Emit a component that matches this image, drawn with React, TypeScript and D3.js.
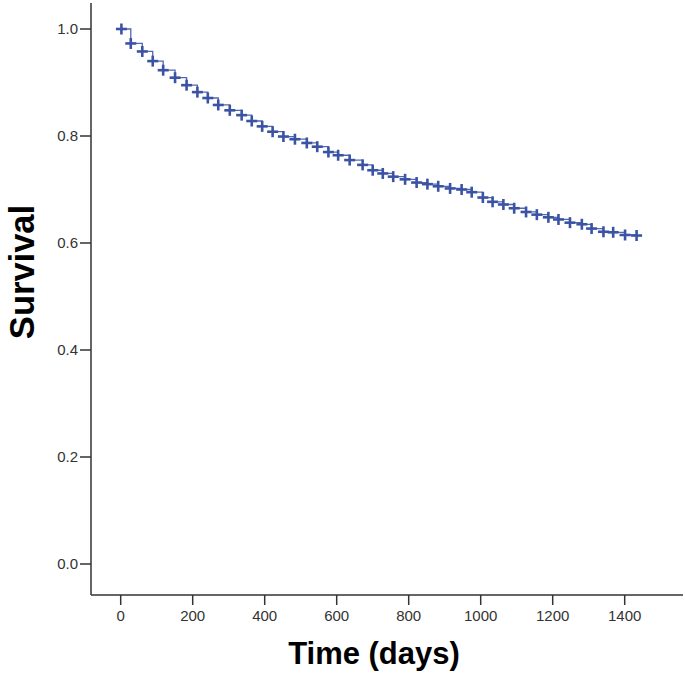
import React from "react";
import * as d3 from "d3";

const censorDays = [2, 28, 60, 89, 118, 151, 183, 213, 242, 271, 303, 336, 364, 393, 422, 452, 484, 517, 546, 577, 604, 636, 672, 700, 728, 757, 790, 822, 852, 882, 915, 947, 975, 1006, 1033, 1063, 1093, 1126, 1156, 1188, 1216, 1248, 1281, 1308, 1341, 1368, 1401, 1433];
const survival = [1.0, 0.973, 0.958, 0.94, 0.923, 0.909, 0.895, 0.882, 0.871, 0.858, 0.848, 0.839, 0.828, 0.818, 0.808, 0.799, 0.794, 0.787, 0.78, 0.77, 0.764, 0.755, 0.746, 0.736, 0.73, 0.724, 0.719, 0.713, 0.71, 0.706, 0.702, 0.7, 0.695, 0.685, 0.677, 0.672, 0.665, 0.658, 0.653, 0.648, 0.644, 0.638, 0.635, 0.627, 0.621, 0.62, 0.615, 0.614];
const xTicks = [0, 200, 400, 600, 800, 1000, 1200, 1400];
const yTicks = [0, 0.2, 0.4, 0.6, 0.8, 1.0];

export default function App() {
  const x = d3.scaleLinear().domain([0, 1400]).range([120.7, 624.7]);
  const y = d3.scaleLinear().domain([0, 1]).range([564, 29]);
  const pts: [number, number][] = [[0, 1.0], ...censorDays.map((d, i) => [d, survival[i]] as [number, number])];
  const line = d3.line<[number, number]>().x(d => x(d[0])).y(d => y(d[1])).curve(d3.curveStepAfter);
  const axisColor = "#333";
  const font = "Liberation Sans, Arial, sans-serif";
  const m = 5.5;
  return (
    <svg width={685} height={674} style={{ position: "absolute", left: 0, top: 0, background: "#fff" }}>
      <line x1={91} y1={3} x2={91} y2={595} stroke={axisColor} strokeWidth={1.5} />
      <line x1={91} y1={595} x2={683} y2={595} stroke={axisColor} strokeWidth={1.5} />
      {yTicks.map(t => (
        <g key={"y" + t}>
          <line x1={80} x2={91} y1={y(t)} y2={y(t)} stroke={axisColor} strokeWidth={1.5} />
          <text x={78} y={y(t)} dy="0.35em" textAnchor="end" fontFamily={font} fontSize={15} fill="#333">{t.toFixed(1)}</text>
        </g>
      ))}
      {xTicks.map(t => (
        <g key={"x" + t}>
          <line x1={x(t)} x2={x(t)} y1={595} y2={605} stroke={axisColor} strokeWidth={1.5} />
          <text x={x(t)} y={621} textAnchor="middle" fontFamily={font} fontSize={15} fill="#333">{t}</text>
        </g>
      ))}
      <path d={line(pts) || ""} fill="none" stroke="#5068b0" strokeWidth={1.3} />
      {censorDays.map((d, i) => (
        <g key={"c" + i} stroke="#3b53a4" strokeWidth={2.6}>
          <line x1={x(d) - m} x2={x(d) + m} y1={y(survival[i])} y2={y(survival[i])} />
          <line x1={x(d)} x2={x(d)} y1={y(survival[i]) - m} y2={y(survival[i]) + m} />
        </g>
      ))}
      <text x={374} y={664} textAnchor="middle" fontFamily={font} fontWeight="bold" fontSize={31} fill="#000">Time (days)</text>
      <text transform="translate(34,272) rotate(-90)" textAnchor="middle" fontFamily={font} fontWeight="bold" fontSize={34.5} fill="#000">Survival</text>
    </svg>
  );
}
